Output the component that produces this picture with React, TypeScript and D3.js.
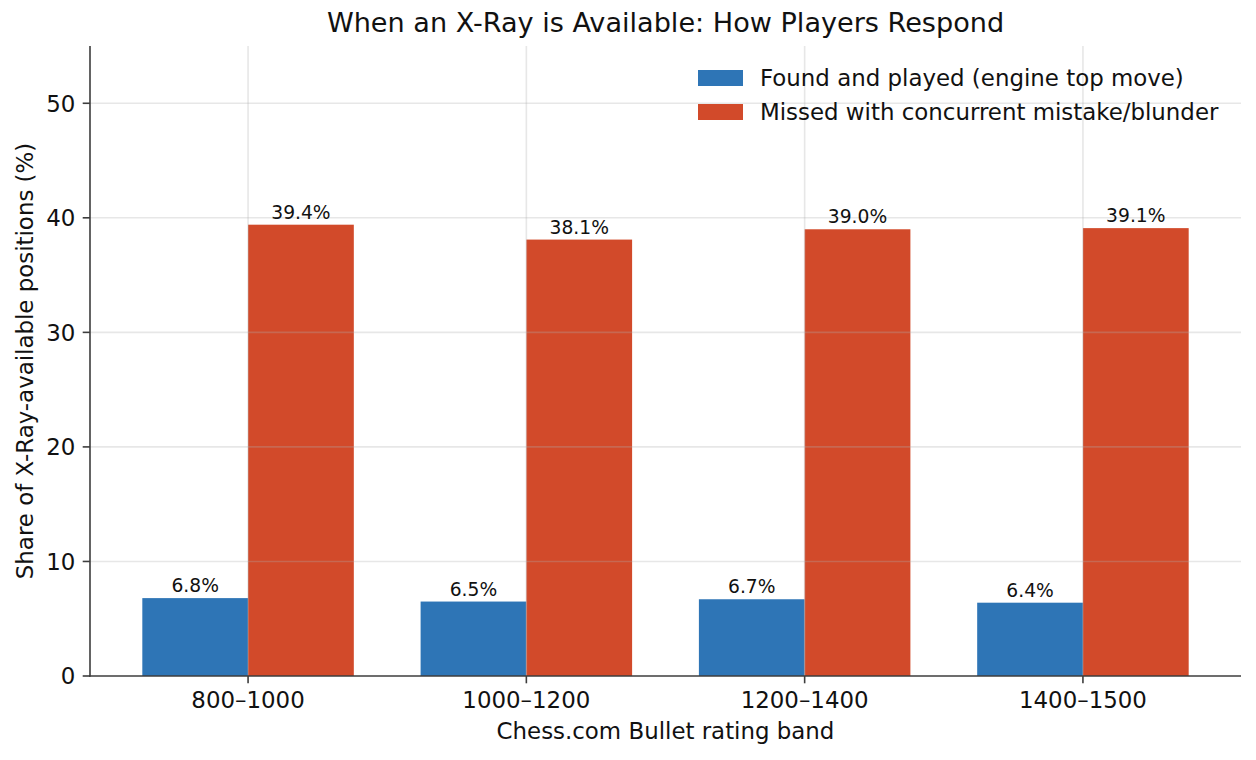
import React from 'react'
import * as d3 from 'd3'

const bands = ['800–1000', '1000–1200', '1200–1400', '1400–1500']
const foundPlayed = [6.8, 6.5, 6.7, 6.4]
const missedBlunder = [39.4, 38.1, 39.0, 39.1]
const yTicks = [0, 10, 20, 30, 40, 50]
const seriesNames = ['Found and played (engine top move)', 'Missed with concurrent mistake/blunder']

const W = 1256
const H = 760
const margin = { top: 46, right: 15, bottom: 84, left: 90 }
const COLORS = { blue: '#2e75b6', red: '#d24a2a', axis: '#3d3d3d', grid: '#b0b0b0', text: '#111' }
const FONT = 'DejaVu Sans, sans-serif'
const barW = 0.38

export default function App() {
  const x = d3.scaleLinear().domain([-0.568, bands.length - 1 + 0.568]).range([margin.left, W - margin.right])
  const y = d3.scaleLinear().domain([0, 55]).range([H - margin.bottom, margin.top])
  const px = (v: number) => x(v) - x(0)
  const x0 = margin.left
  const x1 = W - margin.right
  const yBottom = y(0)
  const yTop = y(55)

  const series = [
    { name: seriesNames[0], values: foundPlayed, color: COLORS.blue, offset: -barW / 2 },
    { name: seriesNames[1], values: missedBlunder, color: COLORS.red, offset: barW / 2 },
  ]

  return (
    <div style={{ position: 'fixed', left: 0, top: 0 }}>
      <svg width={W} height={H} style={{ display: 'block', background: '#fff' }} fontFamily={FONT}>
        {/* bars */}
        {series.map(s =>
          s.values.map((v, i) => (
            <rect key={s.name + i}
              x={x(i + s.offset - barW / 2)} width={px(barW)}
              y={y(v)} height={yBottom - y(v)} fill={s.color} />
          ))
        )}

        {/* grid on top, faint */}
        <g stroke={COLORS.grid} strokeOpacity={0.3} strokeWidth={1.6}>
          {yTicks.slice(1).map(t => <line key={'h' + t} x1={x0} x2={x1} y1={y(t)} y2={y(t)} />)}
          {bands.map((b, i) => <line key={'v' + b} x1={x(i)} x2={x(i)} y1={yTop} y2={yBottom} />)}
        </g>

        {/* bar labels */}
        {series.map(s =>
          s.values.map((v, i) => (
            <text key={'l' + s.name + i} x={x(i + s.offset)} y={y(v) - 6}
              textAnchor="middle" fontSize={18.7} fill={COLORS.text}>{v.toFixed(1)}%</text>
          ))
        )}

        {/* axes */}
        <line x1={x0} x2={x0} y1={yTop} y2={yBottom + 0.8} stroke={COLORS.axis} strokeWidth={1.6} />
        <line x1={x0 - 0.8} x2={x1} y1={yBottom} y2={yBottom} stroke={COLORS.axis} strokeWidth={1.6} />

        {yTicks.map(t => (
          <g key={'yt' + t}>
            <line x1={x0 - 7.3} x2={x0} y1={y(t)} y2={y(t)} stroke={COLORS.axis} strokeWidth={1.6} />
            <text x={x0 - 14.6} y={y(t)} dy="0.36em" textAnchor="end" fontSize={22.9} fill={COLORS.text}>{t}</text>
          </g>
        ))}

        {bands.map((b, i) => (
          <g key={'xt' + b}>
            <line x1={x(i)} x2={x(i)} y1={yBottom} y2={yBottom + 7.3} stroke={COLORS.axis} strokeWidth={1.6} />
            <text x={x(i)} y={yBottom + 32} textAnchor="middle" fontSize={22.9} fill={COLORS.text}>{b}</text>
          </g>
        ))}

        {/* axis labels */}
        <text x={(x0 + x1) / 2} y={739} textAnchor="middle" fontSize={22.9} fill={COLORS.text}>Chess.com Bullet rating band</text>
        <text transform={`translate(32.5,${(yTop + yBottom) / 2}) rotate(-90)`} textAnchor="middle" fontSize={22.9} fill={COLORS.text}>
          Share of X-Ray-available positions (%)
        </text>

        {/* title */}
        <text x={(x0 + x1) / 2} y={32} textAnchor="middle" fontSize={27.1} fill={COLORS.text}>
          When an X-Ray is Available: How Players Respond
        </text>

        {/* legend */}
        {series.map((s, i) => (
          <g key={'lg' + s.name} transform={`translate(698,${78 + i * 34})`}>
            <rect x={0} y={-8} width={45} height={16} fill={s.color} />
            <text x={62} y={0} dy="0.36em" fontSize={22.9} fill={COLORS.text}>{s.name}</text>
          </g>
        ))}
      </svg>
    </div>
  )
}
